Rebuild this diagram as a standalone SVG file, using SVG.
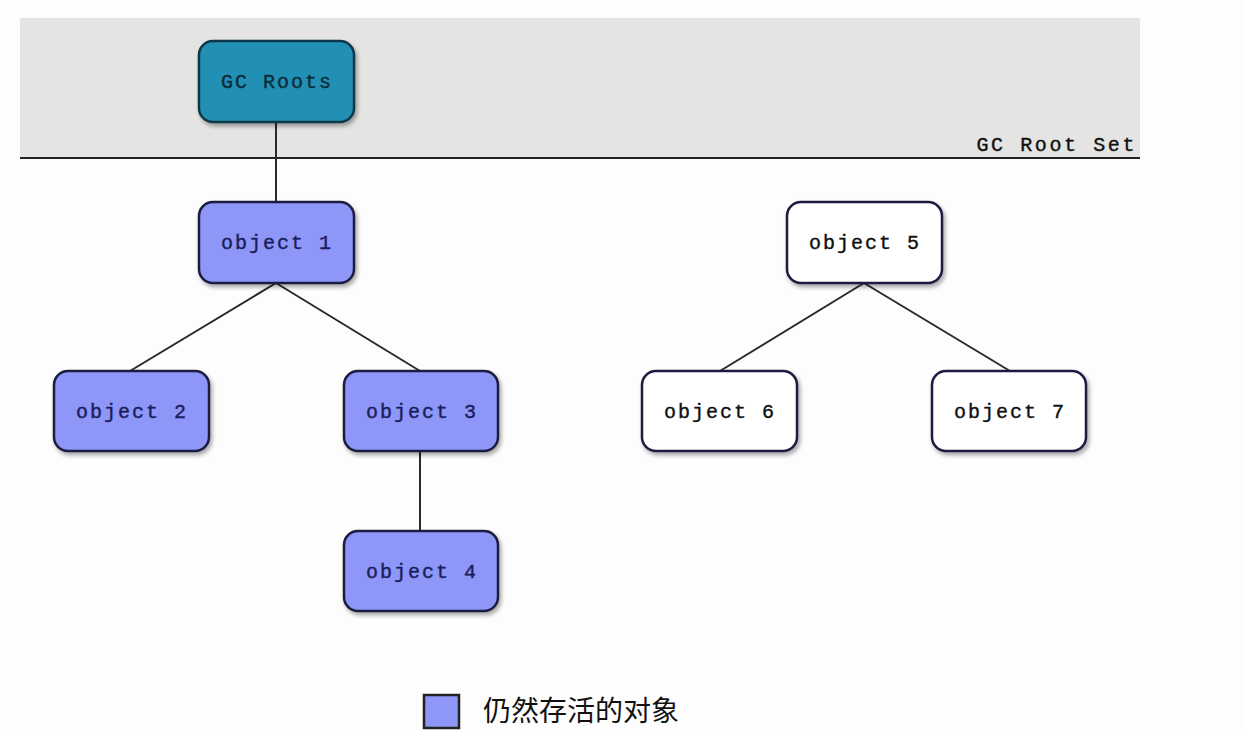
<svg xmlns="http://www.w3.org/2000/svg" width="1244" height="730" viewBox="0 0 1244 730">
  <defs>
    <filter id="sh" x="-10%" y="-10%" width="130%" height="140%">
      <feDropShadow dx="2" dy="3" stdDeviation="2" flood-color="#000" flood-opacity="0.35"/>
    </filter>
  </defs>
  <style>
    .node rect { stroke: #1c1c40; stroke-width: 2.5; filter: url(#sh); }
    .live rect { fill: #8e96f8; }
    .dead rect { fill: #ffffff; }
    .root rect { fill: #2290b4; stroke: #103848; }
    .node text { font-family: "Liberation Mono", "DejaVu Sans Mono", monospace; font-size: 20px; letter-spacing: 2px; text-anchor: middle; stroke-width: 0.4; }
    .live text { fill: #1a1d5c; stroke: #1a1d5c; }
    .dead text { fill: #111111; stroke: #111111; }
    .root text { fill: #0c2c3a; stroke: #0c2c3a; }
    .conn line { stroke: #2a2a2a; stroke-width: 2; }
  </style>
  <rect x="0" y="0" width="1244" height="730" fill="#fdfdfd"/>
  <rect x="20" y="18" width="1120" height="140" fill="#e4e4e2"/>
  <line x1="20" y1="158" x2="1140" y2="158" stroke="#222" stroke-width="2"/>
  <text x="1137" y="151" font-family="Liberation Mono, DejaVu Sans Mono, monospace" font-size="20" letter-spacing="2.6" text-anchor="end" fill="#111" stroke="#111" stroke-width="0.4">GC Root Set</text>

  <g id="connectors" class="conn">
    <line x1="276" y1="122" x2="276" y2="202"/>
    <line x1="276" y1="283" x2="130" y2="371"/>
    <line x1="276" y1="283" x2="420" y2="371"/>
    <line x1="420" y1="451" x2="420" y2="531"/>
    <line x1="864" y1="283" x2="720" y2="371"/>
    <line x1="864" y1="283" x2="1010" y2="371"/>
  </g>

  <g id="gcroots" class="node root">
    <rect x="199" y="41" width="155" height="81" rx="14"/>
    <text x="277" y="88">GC Roots</text>
  </g>
  <g id="object1" class="node live">
    <rect x="199" y="202" width="155" height="81" rx="14"/>
    <text x="277" y="249">object 1</text>
  </g>
  <g id="object2" class="node live">
    <rect x="54" y="371" width="155" height="80" rx="14"/>
    <text x="132" y="418">object 2</text>
  </g>
  <g id="object3" class="node live">
    <rect x="344" y="371" width="154" height="80" rx="14"/>
    <text x="422" y="418">object 3</text>
  </g>
  <g id="object4" class="node live">
    <rect x="344" y="531" width="154" height="80" rx="14"/>
    <text x="422" y="578">object 4</text>
  </g>
  <g id="object5" class="node dead">
    <rect x="787" y="202" width="155" height="81" rx="14"/>
    <text x="865" y="249">object 5</text>
  </g>
  <g id="object6" class="node dead">
    <rect x="642" y="371" width="155" height="80" rx="14"/>
    <text x="720" y="418">object 6</text>
  </g>
  <g id="object7" class="node dead">
    <rect x="932" y="371" width="154" height="80" rx="14"/>
    <text x="1010" y="418">object 7</text>
  </g>

  <g id="legend">
    <rect x="424" y="695" width="35" height="33" fill="#8e96f8" stroke="#222" stroke-width="2.5"/>
    <text x="483" y="721" font-family="Noto Sans CJK SC, sans-serif" font-size="28" fill="#111">仍然存活的对象</text>
  </g>
</svg>
